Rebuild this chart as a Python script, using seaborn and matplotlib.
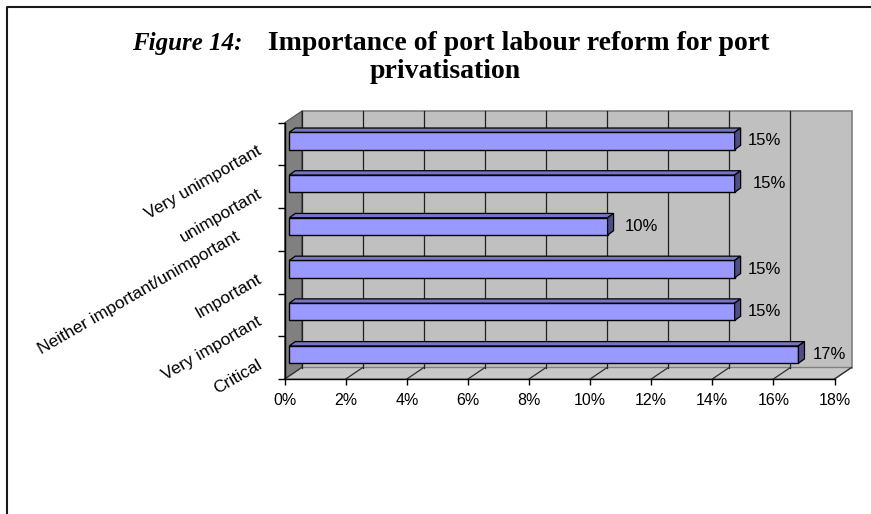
import numpy as np
import pandas as pd
import matplotlib
matplotlib.use("Agg")
import matplotlib.pyplot as plt
import matplotlib.transforms as mtransforms
from matplotlib.patches import Polygon
from matplotlib.lines import Line2D
from matplotlib.ticker import PercentFormatter
import seaborn as sns

# ---- data ----
categories = ["Very unimportant", "unimportant", "Neither important/unimportant",
              "Important", "Very important", "Critical"]
values = [0.1458, 0.1458, 0.1042, 0.1458, 0.1458, 0.1667]
value_labels = ["15%", "15%", "10%", "15%", "15%", "17%"]
x_ticks = [0.0, 0.02, 0.04, 0.06, 0.08, 0.10, 0.12, 0.14, 0.16, 0.18]
title_prefix = "Figure 14:"
title_line1 = "Importance of port labour reform for port"
title_line2 = "privatisation"

plt.rcParams["font.family"] = ["Liberation Sans", "DejaVu Sans"]

W, H = 871, 514
fig = plt.figure(figsize=(W / 100, H / 100), dpi=100)
fig.patch.set_facecolor("white")

# front plane of the 3-D box (pixels)
x0p, x1p, ytp, ybp = 284.7, 834.5, 122.7, 379.0
ax = fig.add_axes([x0p / W, 1 - ybp / H, (x1p - x0p) / W, (ybp - ytp) / H])
ax.set_facecolor("none")
axw, axh = x1p - x0p, ybp - ytp

df = pd.DataFrame({"category": categories, "value": values})
sns.barplot(data=df, x="value", y="category", orient="h", color="#9999FF",
            saturation=1, width=0.405, edgecolor="black", linewidth=1.0,
            ax=ax, zorder=3)
bars = list(ax.patches)

ax.set_xlim(x_ticks[0], x_ticks[-1])
ax.set_ylim(len(categories) - 0.5, -0.5)
ax.set_xticks(x_ticks)
ax.xaxis.set_major_formatter(PercentFormatter(1.0, decimals=0))
ax.set_yticks(np.arange(-0.5, len(categories), 1.0))
ax.set_yticklabels([])
ax.set_xlabel("")
ax.set_ylabel("")
for s in ["top", "right"]:
    ax.spines[s].set_visible(False)
for s in ["left", "bottom"]:
    ax.spines[s].set_color("black")
    ax.spines[s].set_linewidth(1.0)
    ax.spines[s].set_zorder(2.5)
ax.tick_params(axis="y", direction="out", length=5.2, width=1, color="black")
ax.tick_params(axis="x", direction="out", length=4, width=1, color="black",
               pad=6, labelsize=11.5, labelcolor="black")

# depth of the box (pixels -> axes fraction)
DX, DY = 17.0, 11.5
ox, oy = DX / axw, DY / axh

wall_kw = dict(transform=ax.transAxes, clip_on=False)
back = Polygon([(ox, oy), (1 + ox, oy), (1 + ox, 1 + oy), (ox, 1 + oy)],
               closed=True, facecolor="#C0C0C0", edgecolor="#808080",
               linewidth=1.2, zorder=0.5, **wall_kw)
left = Polygon([(0, 0), (ox, oy), (ox, 1 + oy), (0, 1)], closed=True,
               facecolor="#808080", edgecolor="#555555", linewidth=0.8,
               zorder=0.6, **wall_kw)
floor = Polygon([(0, 0), (1, 0), (1 + ox, oy), (ox, oy)], closed=True,
                facecolor="#C8C8C8", edgecolor="#808080", linewidth=1.0,
                zorder=0.6, **wall_kw)
for p in (back, left, floor):
    ax.add_patch(p)

xmin, xmax = x_ticks[0], x_ticks[-1]
for t in x_ticks:
    xa = (t - xmin) / (xmax - xmin)
    if t < xmax:
        ax.add_line(Line2D([xa + ox, xa + ox], [oy, 1 + oy], color="#202020",
                           linewidth=0.9, zorder=0.7, **wall_kw))
    ax.add_line(Line2D([xa, xa + ox], [0, oy], color="#303030",
                       linewidth=0.9, zorder=0.7, **wall_kw))

# 3-D bars: shift front faces into the depth and add top/side faces
fx, fy = 4.6, 3.1      # front face offset (pixels)
bdx, bdy = 6.0, 4.3    # bar depth (pixels)
label_gap = [7, 12, 11, 7, 7, 8]   # label spacing from bar end (pixels)
shift = mtransforms.ScaledTranslation(fx / 100, fy / 100, fig.dpi_scale_trans)
to_ax = ax.transLimits
for i, p in enumerate(bars):
    p.set_transform(ax.transData + shift)
    bx, by, bw, bh = p.get_x(), p.get_y(), p.get_width(), p.get_height()
    (ax0, ay0) = to_ax.transform((bx, by))
    (ax1, ay1) = to_ax.transform((bx + bw, by + bh))
    ylo, yhi = min(ay0, ay1), max(ay0, ay1)
    sx, sy = fx / axw, fy / axh
    dxa, dya = bdx / axw, bdy / axh
    L, R = ax0 + sx, ax1 + sx
    T, B = yhi + sy, ylo + sy
    top = Polygon([(L, T), (R, T), (R + dxa, T + dya), (L + dxa, T + dya)],
                  closed=True, facecolor="#7676C4", edgecolor="black",
                  linewidth=0.9, zorder=3.1, **wall_kw)
    side = Polygon([(R, B), (R + dxa, B + dya), (R + dxa, T + dya), (R, T)],
                   closed=True, facecolor="#4E4E86", edgecolor="black",
                   linewidth=0.9, zorder=3.1, **wall_kw)
    ax.add_patch(top)
    ax.add_patch(side)
    lab_off = mtransforms.ScaledTranslation((fx + bdx + label_gap[i]) / 100,
                                            fy / 100, fig.dpi_scale_trans)
    ax.text(bx + bw, by + bh / 2, value_labels[i], transform=ax.transData + lab_off,
            ha="left", va="center", fontsize=12, color="black", zorder=4,
            clip_on=False)

# rotated category labels
label_dx = [-24, -24, -46, -24, -24, -24]   # pixels
for i, c in enumerate(categories):
    lab_shift = mtransforms.ScaledTranslation(label_dx[i] / 100, -6 / 100,
                                              fig.dpi_scale_trans)
    ax.text(0, i, c, transform=ax.get_yaxis_transform() + lab_shift,
            rotation=30, rotation_mode="anchor", ha="right", va="center",
            fontsize=12.5, color="black", clip_on=False)

# title
serif = ["Liberation Serif", "DejaVu Serif"]
fig.text(132 / W, 1 - 50 / H, title_prefix, family=serif, style="italic",
         weight="bold", fontsize=18, va="baseline", ha="left")
fig.text(268 / W, 1 - 50 / H, title_line1, family=serif, weight="bold",
         fontsize=20, va="baseline", ha="left")
fig.text(370 / W, 1 - 78.3 / H, title_line2, family=serif, weight="bold",
         fontsize=20, va="baseline", ha="left")

# outer frame (left and top edges visible)
fx0, fy0 = 6.5 / W, 1 - 6.5 / H
fig.add_artist(Line2D([fx0, fx0, 1.0], [0.0, fy0, fy0], transform=fig.transFigure,
                      color="#1a1a1a", linewidth=1.5))

fig.savefig("out.png", dpi=100)
